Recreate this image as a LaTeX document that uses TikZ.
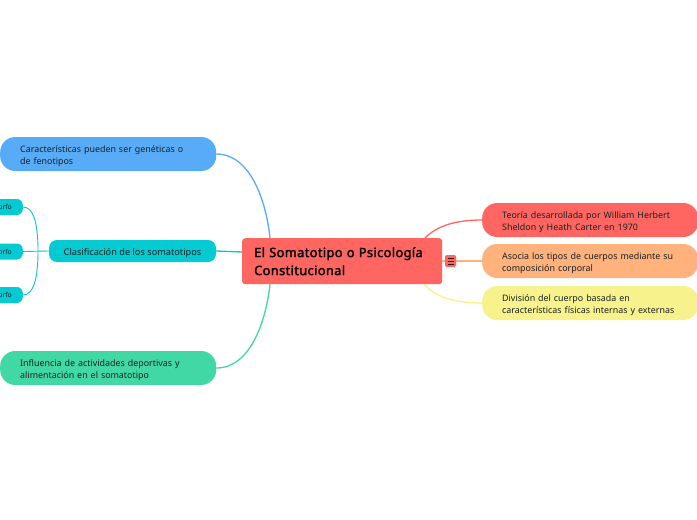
\documentclass[tikz,border=0pt]{standalone}
\usepackage{fontspec}
\setmainfont{Noto Sans}
\newfontfamily\titlefont{Noto Sans}[FakeBold=2,LetterSpace=3]
\definecolor{cblue}{HTML}{58ACF7}
\definecolor{cteal}{HTML}{04CBD1}
\definecolor{cgreen}{HTML}{42D8A6}
\definecolor{cred}{HTML}{FF6661}
\definecolor{corange}{HTML}{FFB27B}
\definecolor{cyellow}{HTML}{F7F28C}
\definecolor{cink}{HTML}{1A2226}
\newcommand{\lineH}{\rule{0pt}{12pt}}
\tikzset{
  topic/.style={anchor=west,rounded corners=15pt,inner xsep=20pt,inner ysep=0pt,align=left,text=cink,
    font=\fontsize{8.9}{12}\selectfont,minimum height=34pt,text width=176pt,execute at begin node=\lineH},
  subtopic/.style={anchor=center,rounded corners=8pt,inner sep=0pt,align=center,text=cink,
    font=\fontsize{9.2}{12}\selectfont,minimum height=22pt,minimum width=167pt,execute at begin node=\rule[-2pt]{0pt}{13pt}},
  leaf/.style={anchor=east,rounded corners=6pt,inner xsep=11pt,inner ysep=0pt,text=cink,fill=cteal,align=right,
    font=\fontsize{6.8}{8}\selectfont,minimum height=16pt,text width=49pt},
  conn/.style={line width=1.3pt,line cap=round},
  thinconn/.style={conn,line width=0.9pt},
}
\begin{document}
\begin{tikzpicture}[x=1pt,y=-1pt]
\useasboundingbox (0,0) rectangle (697,520);
\clip (0,0) rectangle (697,520);
\fill[white] (0,0) rectangle (697,520);
% anchor points on the central box
\coordinate (cn1) at (270,238);
\coordinate (cs1) at (270,284);
\coordinate (cw1) at (242,252);
\coordinate (ne1) at (425,238);
\coordinate (se1) at (424,284);
\coordinate (ee1) at (442,261);
\coordinate (fork) at (38,251);
\node[topic,fill=cblue] (n1) at (0,154) {Características pueden ser genéticas o\\de fenotipos};
\node[subtopic,fill=cteal] (n2) at (132.5,251) {Clasificación de los somatotipos};
\node[topic,fill=cgreen] (n3) at (0,368) {Influencia de actividades deportivas y\\alimentación en el somatotipo};
\node[topic,fill=cred] (r1) at (482,220) {Teoría desarrollada por William Herbert\\Sheldon y Heath Carter en 1970};
\node[topic,fill=corange] (r2) at (482,261) {Asocia los tipos de cuerpos mediante su\\composición corporal};
\node[topic,fill=cyellow] (r3) at (482,303) {División del cuerpo basada en\\características físicas internas y externas};
\node[leaf] (l1) at (23,207) {Ectomorfo};
\node[leaf] (l2) at (23,251.5) {Mesomorfo};
\node[leaf] (l3) at (23,295) {Endomorfo};
\draw[conn,cblue] (n1.east) .. controls (250,154) and (266,200) .. (cn1);
\draw[conn,cgreen] (n3.east) .. controls (250,368) and (266,322) .. (cs1);
\draw[conn,cteal] (n2.east) -- (cw1);
\draw[conn,cred] (r1.west) .. controls (455,220) and (437,226) .. (ne1);
\draw[conn,cyellow] (r3.west) .. controls (455,303) and (435,297) .. (se1);
\draw[conn,corange] (ee1) -- (r2.west);
\draw[thinconn,cteal] (n2.west) -- (l2.east);
\draw[thinconn,cteal] (fork) .. controls (38,222) and (33,207) .. (l1.east);
\draw[thinconn,cteal] (fork) .. controls (38,280) and (33,295) .. (l3.east);
% central topic
\node[anchor=north west,fill=cred,rounded corners=3pt,minimum width=200pt,minimum height=46pt,inner xsep=12pt,inner ysep=0pt,text width=176pt,align=left,text=black,font=\titlefont\fontsize{12.8}{18}\selectfont] (c) at (242,238) {El Somatotipo o Psicología\\Constitucional};
% collapse marker
\node[draw=none,fill=cred,rounded corners=2pt,minimum width=11pt,minimum height=12pt,inner sep=0pt] (t) at (450.5,261) {};
\draw[cink,line width=0.9pt] (447.5,258) -- (453.5,258) (447.5,261) -- (453.5,261) (447.5,264) -- (453.5,264);
\end{tikzpicture}
\end{document}
